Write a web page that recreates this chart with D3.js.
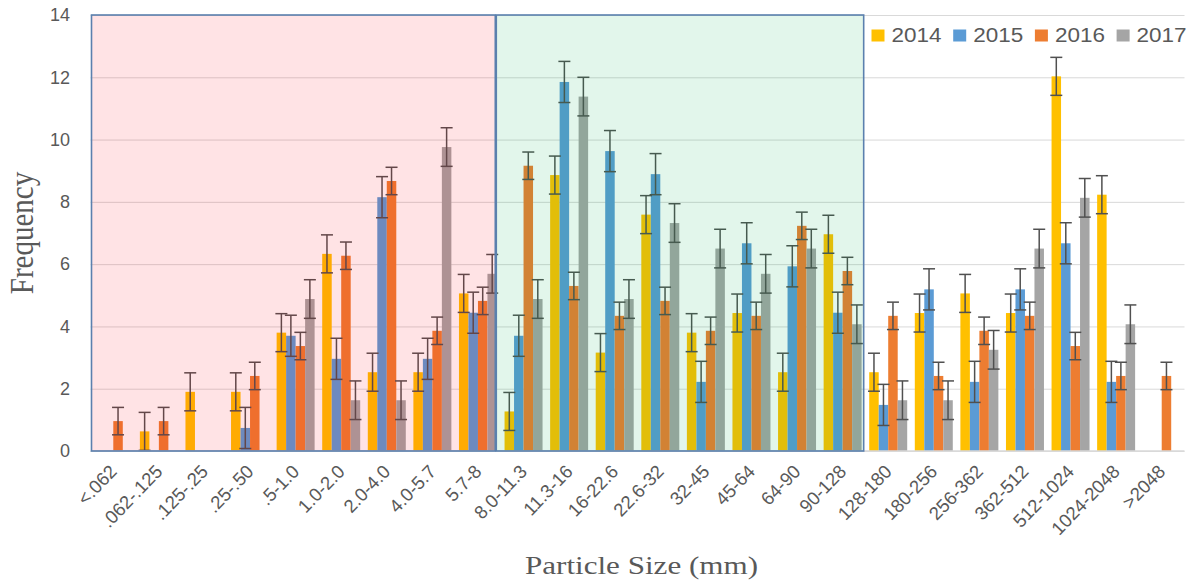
<!DOCTYPE html>
<html>
<head>
<meta charset="utf-8">
<script src="https://cdnjs.cloudflare.com/ajax/libs/d3/7.8.5/d3.min.js"></script>
<style>
body { margin: 0; background: #fff; }
svg text { font-family: "Liberation Sans", Arial, sans-serif; fill: #595959; }
svg text.label { font-family: "Liberation Serif", "Times New Roman", serif; }
</style>
</head>
<body>
<svg width="1194" height="584"></svg>
<script>
// **** Data ****

var sizeClasses = ["<.062", ".062-.125", ".125-.25", ".25-.50", ".5-1.0", "1.0-2.0",
    "2.0-4.0", "4.0-5.7", "5.7-8", "8.0-11.3", "11.3-16", "16-22.6", "22.6-32",
    "32-45", "45-64", "64-90", "90-128", "128-180", "180-256", "256-362",
    "362-512", "512-1024", "1024-2048", ">2048"];

var years = ["2014", "2015", "2016", "2017"];

var freq2014 = [0, 0.63, 1.90, 1.90, 3.80, 6.33, 2.53, 2.53, 5.06, 1.27, 8.86, 3.16,
    7.59, 3.80, 4.43, 2.53, 6.96, 2.53, 4.43, 5.06, 4.43, 12.03, 8.23, 0];
var freq2015 = [0, 0, 0, 0.74, 3.70, 2.96, 8.15, 2.96, 4.44, 3.70, 11.85, 9.63,
    8.89, 2.22, 6.67, 5.93, 4.44, 1.48, 5.19, 2.22, 5.19, 6.67, 2.22, 0];
var freq2016 = [0.96, 0.96, 0, 2.41, 3.37, 6.27, 8.67, 3.86, 4.82, 9.16, 5.30, 4.34,
    4.82, 3.86, 4.34, 7.23, 5.78, 4.34, 2.41, 3.86, 4.34, 3.37, 2.41, 2.41];
var freq2017 = [0, 0, 0, 0, 4.88, 1.63, 1.63, 9.76, 5.69, 4.88, 11.38, 4.88,
    7.32, 6.50, 5.69, 6.50, 4.07, 1.63, 1.63, 3.25, 6.50, 8.13, 4.07, 0];

// standard error, one value per year
var stdErr = [0.61, 0.66, 0.44, 0.62];

var yTicks = [0, 2, 4, 6, 8, 10, 12, 14];

// shaded zones, in category units along the x axis
var zoneBounds = [0, 8.88, 16.94];

// **** Scales ****

var series = [freq2014, freq2015, freq2016, freq2017];
var colors = ["#FFC000", "#5B9BD5", "#ED7D31", "#A5A5A5"];

var svg = d3.select("svg");

var x0 = d3.scaleBand().domain(sizeClasses).range([90.5, 1184.5])
    .paddingInner(0.1667).paddingOuter(0.0833);
var x1 = d3.scaleBand().domain(years).range([0, x0.bandwidth()]);
var xPos = d3.scaleLinear().domain([0, sizeClasses.length]).range([90.5, 1184.5]);
var y = d3.scaleLinear().domain([0, 14]).range([451, 15]);

// **** Gridlines ****

svg.append("g").attr("class", "grid")
    .attr("transform", "translate(90.5,0)")
    .call(d3.axisLeft(y).tickValues(yTicks).tickSize(-1094).tickFormat(""))
    .call(function(g) {
        g.select(".domain").remove();
        g.selectAll("line").attr("stroke", "#D9D9D9").attr("stroke-width", 1);
    });

// **** Bars ****

var cells = [];
series.forEach(function(vals, s) {
    vals.forEach(function(v, i) {
        cells.push({ cls: sizeClasses[i], year: years[s], s: s, value: v });
    });
});

svg.append("g").selectAll("rect")
    .data(cells.filter(function(d) { return d.value > 0; }))
    .enter().append("rect")
    .attr("x", function(d) { return x0(d.cls) + x1(d.year); })
    .attr("y", function(d) { return y(d.value); })
    .attr("width", x1.bandwidth())
    .attr("height", function(d) { return y(0) - y(d.value); })
    .attr("fill", function(d) { return colors[d.s]; });

// **** Error bars ****

var errG = svg.append("g").attr("stroke", "#505050").attr("stroke-width", 1.5);
cells.filter(function(d) { return d.value > 0; }).forEach(function(d) {
    var cx = x0(d.cls) + x1(d.year) + x1.bandwidth() / 2;
    var hi = y(d.value + stdErr[d.s]);
    var lo = y(Math.max(0, d.value - stdErr[d.s]));
    errG.append("line").attr("x1", cx).attr("x2", cx).attr("y1", hi).attr("y2", lo);
    errG.append("line").attr("x1", cx - 6).attr("x2", cx + 6).attr("y1", hi).attr("y2", hi);
    errG.append("line").attr("x1", cx - 6).attr("x2", cx + 6).attr("y1", lo).attr("y2", lo);
});

// **** Baseline ****

svg.append("line")
    .attr("x1", 90.5).attr("x2", 1184.5)
    .attr("y1", y(0)).attr("y2", y(0))
    .attr("stroke", "#D9D9D9").attr("stroke-width", 1.5);

// **** Shaded zones drawn over the bars ****

var zoneFills = ["rgba(255,0,20,0.11)", "rgba(0,176,80,0.115)"];
svg.append("g").selectAll("rect")
    .data([0, 1])
    .enter().append("rect")
    .attr("x", function(i) { return xPos(zoneBounds[i]) + 1; })
    .attr("y", y(14))
    .attr("width", function(i) { return xPos(zoneBounds[i + 1]) - xPos(zoneBounds[i]) - (i === 0 ? 1 : 0); })
    .attr("height", y(0) - y(14))
    .attr("fill", function(i) { return zoneFills[i]; })
    .attr("stroke", "#5B80AE")
    .attr("stroke-width", 1.6);

// **** Axes ****

svg.append("g")
    .attr("transform", "translate(73,0)")
    .call(d3.axisLeft(y).tickValues(yTicks).tickSize(0).tickPadding(3))
    .call(function(g) {
        g.select(".domain").remove();
        g.attr("font-family", null).attr("font-size", null);
        g.selectAll("text").style("font-size", "18px");
    });

svg.append("g")
    .attr("transform", "translate(0," + y(0) + ")")
    .call(d3.axisBottom(x0).tickSize(0))
    .call(function(g) {
        g.select(".domain").remove();
        g.attr("font-family", null).attr("font-size", null);
        g.selectAll("text")
            .style("font-size", "18.5px")
            .attr("text-anchor", "end")
            .attr("y", 0).attr("dy", "0.35em")
            .attr("transform", "translate(0,17) rotate(-46)");
    });

// **** Axis labels ****

svg.append("text")
    .attr("class", "label")
    .attr("text-anchor", "middle")
    .attr("transform", "translate(33,233) scale(1.13,1) rotate(-90)")
    .style("font-size", "29px")
    .text("Frequency");

svg.append("text")
    .attr("class", "label")
    .attr("x", 525).attr("y", 574)
    .attr("textLength", 233).attr("lengthAdjust", "spacingAndGlyphs")
    .style("font-size", "26px")
    .text("Particle Size (mm)");

// **** Legend ****

var legend = svg.append("g").selectAll("g")
    .data(years)
    .enter().append("g")
    .attr("transform", function(d, i) { return "translate(" + (871.5 + i * 81.7) + ",0)"; });

legend.append("rect")
    .attr("x", 0).attr("y", 29.5).attr("width", 13).attr("height", 12)
    .attr("fill", function(d, i) { return colors[i]; });

legend.append("text")
    .attr("x", 20).attr("y", 41.7)
    .attr("textLength", 50).attr("lengthAdjust", "spacingAndGlyphs")
    .style("font-size", "20px")
    .text(function(d) { return d; });
</script>
</body>
</html>
